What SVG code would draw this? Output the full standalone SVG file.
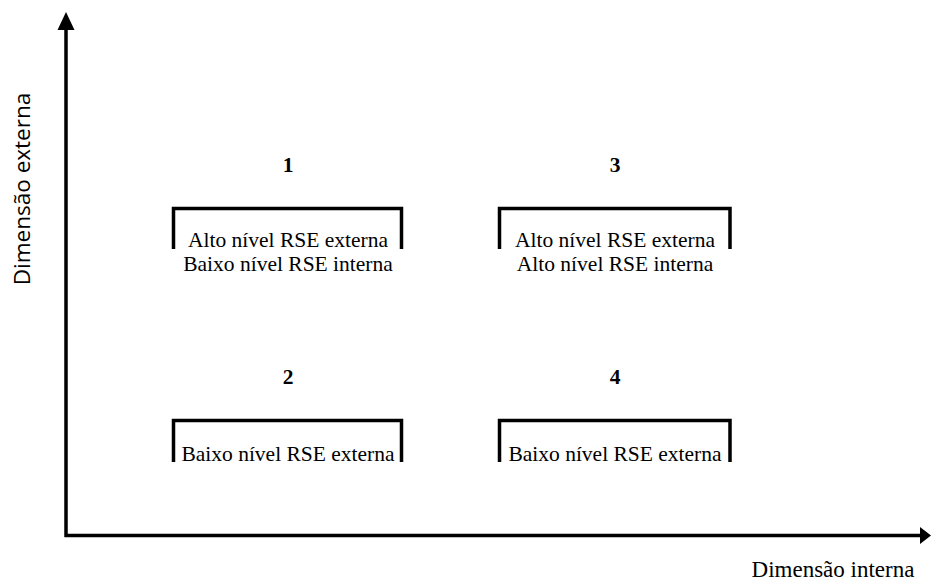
<svg xmlns="http://www.w3.org/2000/svg" width="931" height="583" viewBox="0 0 931 583">
<style>
.ax{stroke:#000;stroke-width:3.5;fill:none}
.br{stroke:#000;stroke-width:3.5;fill:none}
.t{font-family:'Liberation Serif','DejaVu Serif',serif;font-size:21.5px;fill:#000;text-anchor:middle}
.n{font-family:'Liberation Serif','DejaVu Serif',serif;font-size:21.5px;font-weight:bold;fill:#000;text-anchor:middle}
.lab{font-family:'Liberation Serif','DejaVu Serif',serif;font-size:23px;fill:#000;text-anchor:middle}
.vlab{font-family:'Open Sans','Noto Sans',sans-serif;font-size:22.5px;fill:#000;text-anchor:middle}
</style>
<rect width="931" height="583" fill="#fff"/>
<g id="axes">
<path class="ax" d="M66,537 V28 M64.5,535.5 H921"/>
<polygon points="66,12 57.5,30 74.5,30" fill="#000"/>
<polygon points="931,535.5 920,527 920,544" fill="#000"/>
</g>
<text class="vlab" transform="translate(30,189) rotate(-90)">Dimensão externa</text>
<text class="lab" x="833" y="577">Dimensão interna</text>
<g id="q1">
<text class="n" x="288" y="172">1</text>
<path class="br" d="M173.5,249 V208.5 H401.5 V249"/>
<text class="t" x="288" y="247">Alto nível RSE externa</text>
<text class="t" x="288" y="271">Baixo nível RSE interna</text>
</g>
<g id="q3">
<text class="n" x="615" y="172">3</text>
<path class="br" d="M499.5,249 V208.5 H730 V249"/>
<text class="t" x="615" y="247">Alto nível RSE externa</text>
<text class="t" x="615" y="271">Alto nível RSE interna</text>
</g>
<g id="q2">
<text class="n" x="288" y="384">2</text>
<path class="br" d="M173.5,462 V420.5 H401.5 V462"/>
<text class="t" x="288" y="461">Baixo nível RSE externa</text>
</g>
<g id="q4">
<text class="n" x="615" y="384">4</text>
<path class="br" d="M499.5,462 V420.5 H730 V462"/>
<text class="t" x="615" y="461">Baixo nível RSE externa</text>
</g>
</svg>
